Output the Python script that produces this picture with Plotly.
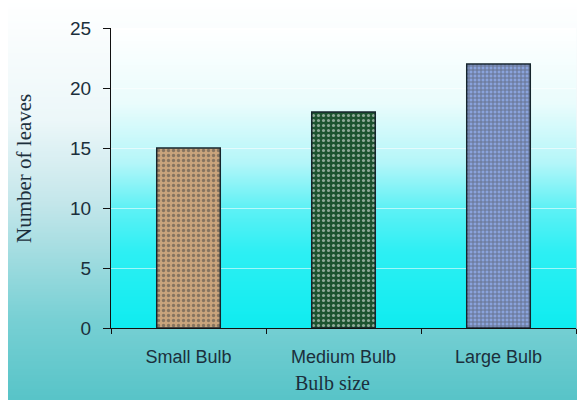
import base64
import struct
import zlib

import plotly.graph_objects as go

# ---- data ----
categories = ["Small Bulb", "Medium Bulb", "Large Bulb"]
leaves = [15, 18, 22]
y_ticks = [0, 5, 10, 15, 20, 25]

W, H = 577, 400
M_L, M_R, M_T, M_B = 111, 1, 28, 72


def gradient_png(stops, rows=200):
    """Vertical gradient as a 1-pixel-wide PNG data URI (top -> bottom)."""
    raw = b""
    for r in range(rows):
        t = r / (rows - 1)
        for i in range(len(stops) - 1):
            t0, c0 = stops[i]
            t1, c1 = stops[i + 1]
            if t0 <= t <= t1:
                f = (t - t0) / (t1 - t0) if t1 > t0 else 0
                col = [round(a + (b - a) * f) for a, b in zip(c0, c1)]
                break
        raw += b"\x00" + bytes(col)

    def chunk(tag, data):
        return (struct.pack(">I", len(data)) + tag + data
                + struct.pack(">I", zlib.crc32(tag + data) & 0xFFFFFFFF))

    png = b"\x89PNG\r\n\x1a\n"
    png += chunk(b"IHDR", struct.pack(">IIBBBBB", 1, rows, 8, 2, 0, 0, 0))
    png += chunk(b"IDAT", zlib.compress(raw))
    png += chunk(b"IEND", b"")
    return "data:image/png;base64," + base64.b64encode(png).decode()


outer_bg = gradient_png([
    (0.0, (255, 255, 255)),
    (0.3, (236, 247, 249)),
    (0.5, (198, 231, 235)),
    (0.8, (120, 208, 212)),
    (1.0, (88, 196, 200)),
])
plot_bg = gradient_png([
    (0.0, (255, 255, 255)),
    (0.25, (234, 252, 252)),
    (0.45, (180, 246, 249)),
    (0.6, (95, 241, 245)),
    (0.75, (45, 239, 243)),
    (1.0, (15, 236, 240)),
])

pw = W - M_L - M_R
ph = H - M_T - M_B

fig = go.Figure(
    go.Bar(
        x=categories,
        y=leaves,
        width=0.41,
        marker=dict(
            color=["#c9a47c", "#1d5330", "#8aa3dc"],
            line=dict(color="#16252c", width=1.5),
            pattern=dict(
                shape=[".", ".", "+"],
                fgcolor=["#94714b", "#33744a", "#4560aa"],
                size=[5, 5, 4],
                solidity=[0.35, 0.3, 0.45],
                fillmode="overlay",
            ),
        ),
        hoverinfo="skip",
    )
)

fig.update_layout(
    width=W,
    height=H,
    margin=dict(l=M_L, r=M_R, t=M_T, b=M_B, pad=0),
    paper_bgcolor="white",
    plot_bgcolor="rgba(0,0,0,0)",
    showlegend=False,
    font=dict(family="Liberation Sans, Arial", size=18, color="#1b2f3c"),
    images=[
        # chart-area gradient (whole figure except a thin left border)
        dict(source=outer_bg, xref="paper", yref="paper",
             x=-(M_L - 8) / pw, y=1 + M_T / ph,
             sizex=(W - 8) / pw, sizey=H / ph,
             sizing="stretch", layer="below", xanchor="left", yanchor="top"),
        # plot-area gradient
        dict(source=plot_bg, xref="paper", yref="paper",
             x=0, y=1, sizex=1, sizey=1,
             sizing="stretch", layer="below", xanchor="left", yanchor="top"),
    ],
    annotations=[
        dict(text="Bulb size", xref="paper", yref="paper",
             x=(332 - M_L) / pw, y=-(383 - M_T - ph) / ph,
             showarrow=False, xanchor="center", yanchor="middle",
             font=dict(family="Liberation Serif, Times New Roman", size=20,
                       color="#1b2f3c")),
        dict(text="Number of leaves", xref="paper", yref="paper",
             x=-(M_L - 24) / pw, y=(M_T + ph - 169) / ph,
             showarrow=False, xanchor="center", yanchor="middle",
             textangle=-90,
             font=dict(family="Liberation Serif, Times New Roman", size=21,
                       color="#1b2f3c")),
    ],
)

fig.update_xaxes(
    type="category",
    range=[-0.5, 2.5],
    showline=True,
    linecolor="#111111",
    linewidth=1,
    ticks="outside",
    tickson="boundaries",
    ticklen=5,
    tickcolor="#111111",
    showgrid=False,
    tickfont=dict(size=18),
    ticklabelstandoff=12,
    fixedrange=True,
)
fig.update_yaxes(
    range=[0, 25],
    tickvals=y_ticks,
    showline=True,
    linecolor="#111111",
    linewidth=1,
    ticks="outside",
    ticklen=7,
    tickcolor="#111111",
    showgrid=True,
    gridcolor="rgba(255,255,255,0.55)",
    gridwidth=1,
    zeroline=False,
    tickfont=dict(size=19),
    ticklabelstandoff=8,
    fixedrange=True,
)

fig.write_html("out.html")
